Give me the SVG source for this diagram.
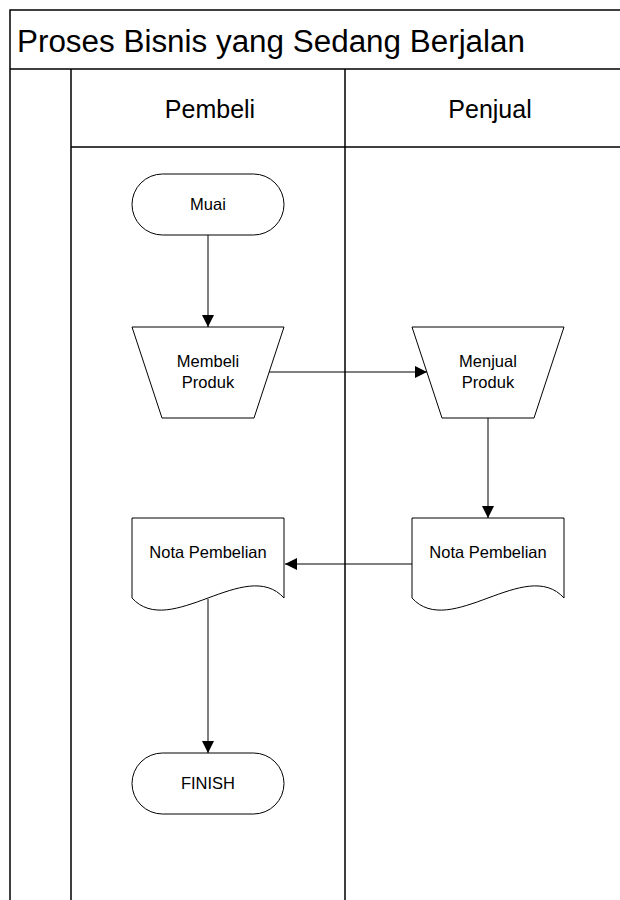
<svg xmlns="http://www.w3.org/2000/svg" width="620" height="900" viewBox="0 0 620 900">
<style>
.frame{fill:none;stroke:#000;stroke-width:1.5}
.shape{fill:#fff;stroke:#000;stroke-width:1}
.conn{fill:none;stroke:#000;stroke-width:1;marker-end:url(#arr)}
.t{font-family:"Liberation Sans",Arial,sans-serif;fill:#000;text-anchor:middle}
.s{font-size:16.5px}
</style>
<defs>
<marker id="arr" viewBox="0 0 12 12" refX="12" refY="6" markerWidth="12" markerHeight="12" markerUnits="userSpaceOnUse" orient="auto">
<path d="M0,0 L12,6 L0,12 Z" fill="#000"/>
</marker>
</defs>
<rect x="0" y="0" width="620" height="900" fill="#fff"/>
<g id="pool">
<path class="frame" d="M620,10 H10 V900 M10,69 H620 M71,69 V900 M345,69 V900 M71,147 H620"/>
<text class="t" x="17" y="52" font-size="31" style="text-anchor:start" textLength="508" lengthAdjust="spacingAndGlyphs">Proses Bisnis yang Sedang Berjalan</text>
<text class="t" x="210" y="118" font-size="25">Pembeli</text>
<text class="t" x="490" y="118" font-size="25">Penjual</text>
</g>
<g id="connectors">
<line class="conn" x1="208" y1="235" x2="208" y2="327"/>
<line class="conn" x1="269" y1="372" x2="427" y2="372"/>
<line class="conn" x1="488" y1="418" x2="488" y2="518"/>
<line class="conn" x1="412" y1="564" x2="285" y2="564"/>
<line class="conn" x1="208" y1="599" x2="208" y2="753"/>
</g>
<g id="muai">
<rect class="shape" x="132" y="174" width="152" height="61" rx="30.5"/>
<text class="t s" x="208" y="210">Muai</text>
</g>
<g id="membeli">
<path class="shape" d="M132,327 H284 L254,418 H162 Z"/>
<text class="t s" x="208" y="367">Membeli</text>
<text class="t s" x="208" y="388">Produk</text>
</g>
<g id="menjual">
<path class="shape" d="M412,327 H564 L534,418 H442 Z"/>
<text class="t s" x="488" y="367">Menjual</text>
<text class="t s" x="488" y="388">Produk</text>
</g>
<g id="nota-penjual">
<path class="shape" d="M412,518 H564 V598 C526,556 450,640 412,598 Z"/>
<text class="t s" x="488" y="558">Nota Pembelian</text>
</g>
<g id="nota-pembeli">
<path class="shape" d="M132,518 H284 V598 C246,556 170,640 132,598 Z"/>
<text class="t s" x="208" y="558">Nota Pembelian</text>
</g>
<g id="finish">
<rect class="shape" x="132" y="753" width="152" height="61" rx="30.5"/>
<text class="t s" x="208" y="789">FINISH</text>
</g>
</svg>
